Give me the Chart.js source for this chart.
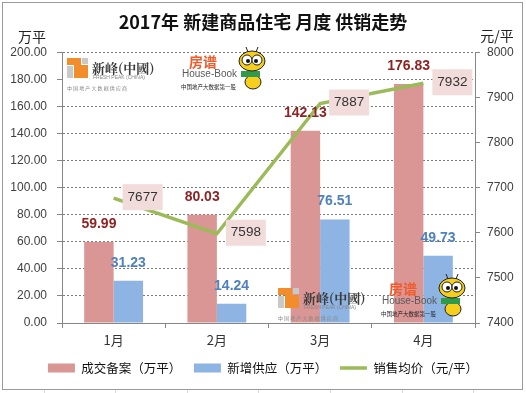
<!DOCTYPE html>
<html>
<head>
<meta charset="utf-8">
<script src="https://cdn.jsdelivr.net/npm/chart.js@4.4.1/dist/chart.umd.min.js"></script>
<style>
  html, body { margin: 0; padding: 0; background: #fff; }
  canvas { display: block; }
</style>
</head>
<body>
<canvas id="chart" width="526" height="393"></canvas>
<script>
// data
const months = ['1月', '2月', '3月', '4月'];
const dealArea = [59.99, 80.03, 142.13, 176.83];   // 成交备案（万平）
const newSupply = [31.23, 14.24, 76.51, 49.73];    // 新增供应（万平）
const avgPrice = [7677, 7598, 7887, 7932];         // 销售均价（元/平）
const areaAxis = { min: 0, max: 200, step: 20 };
const priceAxis = { min: 7400, max: 8000, step: 100 };

const CJK = "'Noto Sans CJK SC', 'Noto Sans', sans-serif";
const NUM = "'Liberation Sans', Arial, sans-serif";
const axisGrey = '#868686';

// the two watermark logos pasted on the chart
function drawLogoA(ctx, x, y) {
    ctx.fillStyle = '#f18d2a';
    ctx.fillRect(x, y, 14, 7);
    ctx.fillRect(x + 7, y + 7, 14, 13);
    ctx.fillStyle = '#c9c9c9';
    ctx.fillRect(x + 15, y, 6, 6);
    ctx.fillRect(x, y + 8, 6, 12);
    ctx.fillStyle = '#3a3a3a';
    ctx.textAlign = 'left';
    ctx.textBaseline = 'middle';
    ctx.font = "bold 13px 'Noto Serif CJK SC', " + CJK;
    ctx.fillText('新峰(中國)', x + 25, y + 10);
    ctx.fillStyle = '#888';
    ctx.font = '5px ' + NUM;
    ctx.fillText('FRESH PEAK (CHINA)', x + 26, y + 20);
    ctx.font = '5px ' + CJK;
    ctx.fillText('中 国 地 产 大 数 据 供 应 商', x, y + 30);
}

function drawLogoB(ctx, x, y) {
    ctx.textAlign = 'left';
    ctx.textBaseline = 'middle';
    ctx.fillStyle = '#ef5b2b';
    ctx.font = 'bold 14px ' + CJK;
    ctx.fillText('房谱', x + 7, y - 12);
    ctx.fillStyle = '#5a5a5a';
    ctx.font = '10px ' + NUM;
    ctx.fillText('House-Book', x, y);
    ctx.fillStyle = '#222';
    ctx.font = '5.5px ' + CJK;
    ctx.fillText('中国地产大数据第一股', x - 1, y + 13);
    // bee
    const bx = x + 70, by = y - 13;
    ctx.lineWidth = 1;
    ctx.strokeStyle = '#222';
    ctx.fillStyle = '#f5cf1c';
    ctx.beginPath(); ctx.ellipse(bx + 1, by + 21, 8, 7, 0, 0, Math.PI * 2); ctx.fill(); ctx.stroke();
    ctx.fillStyle = '#2f9b4a';
    ctx.fillRect(bx - 11, by + 10, 19, 6);
    ctx.fillStyle = '#f5cf1c';
    ctx.beginPath(); ctx.ellipse(bx, by, 13, 10, 0, 0, Math.PI * 2); ctx.fill(); ctx.stroke();
    ctx.fillStyle = '#fff';
    ctx.beginPath(); ctx.arc(bx - 5, by - 1, 5, 0, Math.PI * 2); ctx.fill(); ctx.stroke();
    ctx.beginPath(); ctx.arc(bx + 5, by - 1, 5, 0, Math.PI * 2); ctx.fill(); ctx.stroke();
    ctx.fillStyle = '#111';
    ctx.beginPath(); ctx.arc(bx - 4, by, 2, 0, Math.PI * 2); ctx.fill();
    ctx.beginPath(); ctx.arc(bx + 4, by, 2, 0, Math.PI * 2); ctx.fill();
    ctx.beginPath();
    ctx.moveTo(bx - 4, by - 9); ctx.lineTo(bx - 6, by - 14);
    ctx.moveTo(bx + 4, by - 9); ctx.lineTo(bx + 6, by - 14);
    ctx.stroke();
}

const decorPlugin = {
    id: 'decor',
    beforeDraw(chart) {
        const ctx = chart.ctx;
        ctx.save();
        ctx.fillStyle = '#fff';
        ctx.fillRect(0, 0, chart.width, chart.height);
        // spreadsheet cells showing under the chart
        ctx.strokeStyle = '#d4d9e2';
        ctx.lineWidth = 1;
        ctx.beginPath();
        [44, 115, 187, 258, 330, 402, 473].forEach(gx => {
            ctx.moveTo(gx + 0.5, 390); ctx.lineTo(gx + 0.5, 393);
        });
        ctx.stroke();
        ctx.strokeStyle = '#9a9a9a';
        ctx.strokeRect(2.5, 2.5, 520, 387);
        ctx.restore();
    },
    beforeDatasetsDraw(chart) {
        const ctx = chart.ctx;
        const a = chart.chartArea;
        ctx.save();
        ctx.fillStyle = '#fff';
        ctx.fillRect(a.left + 1, a.top + 3, 206, 48);
        ctx.restore();
    },
    afterDraw(chart) {
        const ctx = chart.ctx;
        ctx.save();
        ctx.fillStyle = '#222';
        ctx.textAlign = 'center';
        ctx.textBaseline = 'middle';
        ctx.font = '14px ' + CJK;
        ctx.fillText('万平', 32, 37);
        ctx.fillText('元/平', 497, 36);
        ctx.restore();
    }
};

const labelPlugin = {
    id: 'valueLabels',
    afterDatasetsDraw(chart) {
        const ctx = chart.ctx;
        ctx.save();
        drawLogoA(ctx, 67, 58);
        drawLogoB(ctx, 182, 74);
        drawLogoA(ctx, 278, 288);
        drawLogoB(ctx, 382, 301);

        ctx.textAlign = 'center';
        ctx.textBaseline = 'middle';
        ctx.font = 'bold 14px ' + NUM;
        chart.getDatasetMeta(0).data.forEach((bar, i) => {
            ctx.fillStyle = '#8e2323';
            ctx.fillText(dealArea[i].toFixed(2), bar.x, bar.y - 18);
        });
        chart.getDatasetMeta(1).data.forEach((bar, i) => {
            ctx.fillStyle = '#4f81bd';
            ctx.fillText(newSupply[i].toFixed(2), bar.x, bar.y - 18);
        });
        ctx.font = '13.5px ' + NUM;
        chart.getDatasetMeta(2).data.forEach((pt, i) => {
            const x0 = pt.x + 9, w = 40, h = 26;
            ctx.fillStyle = '#f2dcdb';
            ctx.fillRect(x0, pt.y - 14, w, h);
            ctx.fillStyle = '#333';
            ctx.fillText(String(avgPrice[i]), x0 + w / 2, pt.y - 1);
        });
        ctx.restore();
    }
};

new Chart(document.getElementById('chart'), {
    type: 'bar',
    data: {
        labels: months,
        datasets: [
            {
                label: '成交备案（万平）',
                data: dealArea,
                backgroundColor: '#d99694',
                borderWidth: 0,
                pointStyle: 'rect',
                yAxisID: 'y',
                order: 2
            },
            {
                label: '新增供应（万平）',
                data: newSupply,
                backgroundColor: '#8db4e2',
                borderWidth: 0,
                pointStyle: 'rect',
                yAxisID: 'y',
                order: 2
            },
            {
                type: 'line',
                label: '销售均价（元/平）',
                data: avgPrice,
                borderColor: '#9bbb59',
                backgroundColor: '#9bbb59',
                borderWidth: 3.5,
                pointRadius: 0,
                pointStyle: 'line',
                tension: 0,
                yAxisID: 'y1',
                order: 1
            }
        ]
    },
    options: {
        responsive: false,
        animation: false,
        devicePixelRatio: 1,
        categoryPercentage: 0.57,
        barPercentage: 1,
        layout: { padding: { left: 0, right: 0, top: 0, bottom: 8.75 } },
        plugins: {
            title: {
                display: true,
                text: '2017年 新建商品住宅 月度 供销走势',
                color: '#111',
                font: { family: CJK, size: 18, weight: 'bold' },
                padding: { top: 11, bottom: 20 }
            },
            legend: {
                position: 'bottom',
                labels: {
                    usePointStyle: true,
                    pointStyleWidth: 27,
                    boxHeight: 9,
                    padding: 12.75,
                    color: '#111',
                    font: { family: CJK, size: 12.5 },
                    sort: (a, b) => a.datasetIndex - b.datasetIndex
                }
            },
            tooltip: { enabled: false }
        },
        scales: {
            x: {
                grid: { drawOnChartArea: false, tickLength: 5, color: axisGrey },
                border: { color: axisGrey },
                ticks: { color: '#333', padding: 4, font: { family: CJK, size: 13 } },
                afterFit: s => { s.height = 26; }
            },
            y: {
                position: 'left',
                min: areaAxis.min,
                max: areaAxis.max,
                ticks: {
                    stepSize: areaAxis.step,
                    padding: 10,
                    color: '#404040',
                    font: { family: NUM, size: 12 },
                    callback: v => v.toFixed(2)
                },
                grid: { color: '#7a7a7a', tickLength: 5, tickColor: axisGrey },
                border: { color: axisGrey, dash: [2, 2] },
                afterFit: s => { s.width = 62; }
            },
            y1: {
                position: 'right',
                min: priceAxis.min,
                max: priceAxis.max,
                ticks: {
                    stepSize: priceAxis.step,
                    padding: 7,
                    color: '#404040',
                    font: { family: NUM, size: 12 },
                    callback: v => String(v)
                },
                grid: { drawOnChartArea: false, tickLength: 5, color: axisGrey },
                border: { color: axisGrey },
                afterFit: s => { s.width = 51; }
            }
        }
    },
    plugins: [decorPlugin, labelPlugin]
});
</script>
</body>
</html>
